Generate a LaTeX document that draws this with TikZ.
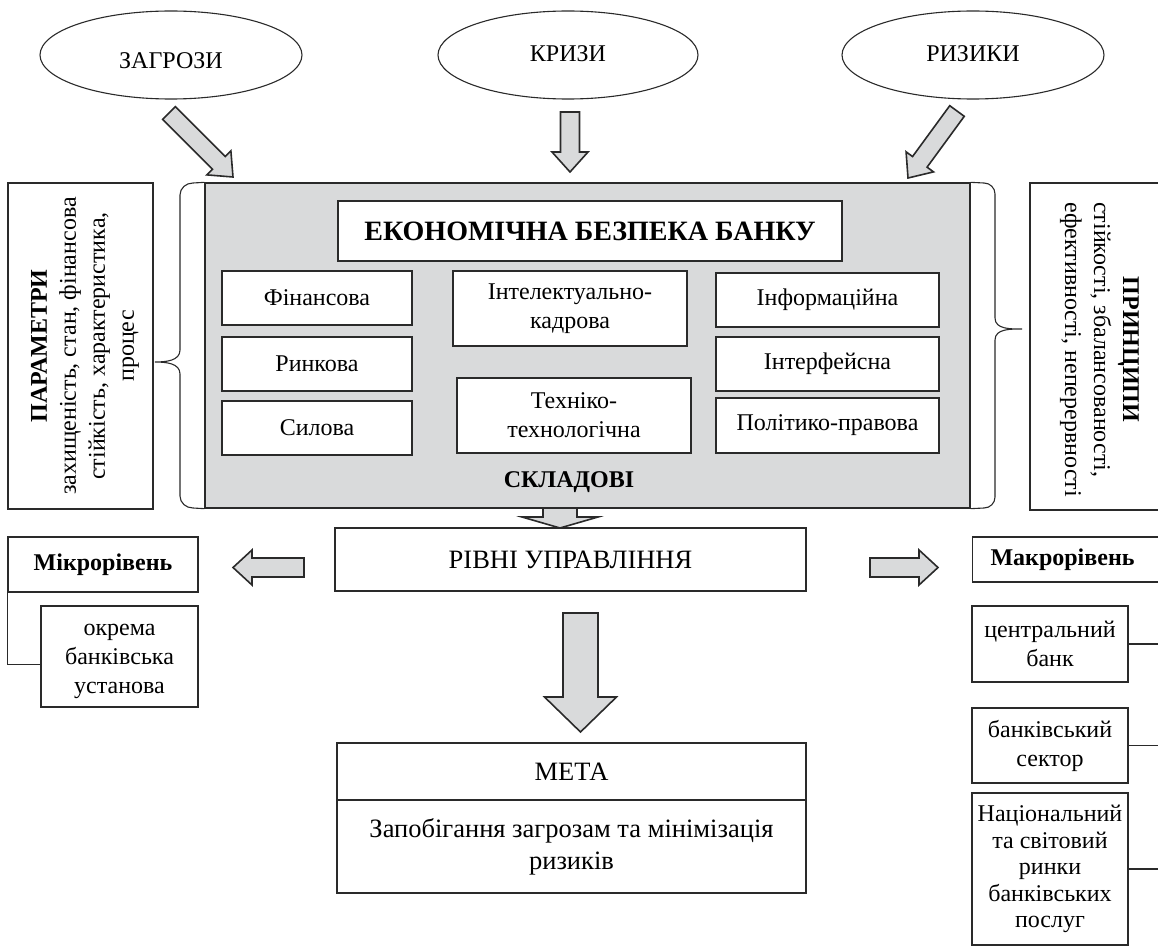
\documentclass[tikz,border=0pt]{standalone}
\usepackage{fontspec}
\setmainfont{Liberation Serif}
\usetikzlibrary{shapes.geometric,calc}
\definecolor{linec}{HTML}{2A2A2A}
\definecolor{grayc}{HTML}{D9DADB}
\newcommand\fsbody{\fontsize{24}{29}\selectfont}
\newcommand\fsnat{\fontsize{24}{26.5}\selectfont}
\newcommand\fsbig{\fontsize{26.5}{32}\selectfont}
\newcommand\fstitle{\fontsize{28}{33}\selectfont}
% tail, tip, half shaft, half head, head length
\newcommand\blockarrow[5]{%
  \coordinate (bah) at ($(#2)!#5!(#1)$);
  \draw[barrow] ($(#1)!#3!90:(#2)$) -- ($(bah)!#3!-90:(#1)$) -- ($(bah)!#4!-90:(#1)$) -- (#2)
     -- ($(bah)!#4!90:(#1)$) -- ($(bah)!#3!90:(#1)$) -- ($(#1)!#3!-90:(#2)$) -- cycle;}
\begin{document}
\begin{tikzpicture}[x=1pt,y=-1pt,
  box/.style={draw=linec, line width=1.1pt, fill=white, inner sep=0pt, align=center, font=\fsbody},
  oval/.style={draw=linec, line width=1.1pt, ellipse, inner sep=0pt},
  txt/.style={inner sep=0pt, font=\fsbody, align=center},
  barrow/.style={draw=linec, line width=1.6pt, fill=grayc, line join=miter},
  line/.style={draw=linec, line width=1.1pt}]
\useasboundingbox (0,0) rectangle (1158,947);

% ellipses
\node[oval, minimum width=262pt, minimum height=88pt] (zag) at (171,55) {};
\node[txt] (zagt) at ([yshift=-6pt]zag.center) {ЗАГРОЗИ};
\node[oval, minimum width=260pt, minimum height=88pt] (kryz) at (568,55) {};
\node[txt] (kryzt) at ([yshift=1pt]kryz.center) {КРИЗИ};
\node[oval, minimum width=262pt, minimum height=88pt] (ryz) at (973,55) {};
\node[txt] (ryzt) at ([yshift=1pt]ryz.center) {РИЗИКИ};

% top arrows
\coordinate (a1t) at (169,113); \coordinate (a1h) at (233,177);
\coordinate (a2t) at (570,112); \coordinate (a2h) at (570,172);
\coordinate (a3t) at (957,111); \coordinate (a3h) at (908,178);
\blockarrow{a1t}{a1h}{9pt}{17pt}{20pt}
\blockarrow{a2t}{a2h}{9.5pt}{18pt}{20pt}
\blockarrow{a3t}{a3h}{9pt}{17pt}{20pt}

% gray box
\node[draw=linec, fill=grayc, line width=1.3pt, minimum width=765pt, minimum height=325pt, inner sep=0pt] (gray) at (587.5,345.5) {};
\node[box, minimum width=504pt, minimum height=60pt, font=\fstitle\bfseries] (title) at (590,231) {ЕКОНОМІЧНА БЕЗПЕКА БАНКУ};
\node[box, minimum width=190pt, minimum height=54pt] (fin) at (317,298) {Фінансова};
\node[box, minimum width=190pt, minimum height=54pt] (rynk) at (317,364) {Ринкова};
\node[box, minimum width=190pt, minimum height=54pt] (syl) at (317,428) {Силова};
\node[box, minimum width=234pt, minimum height=75pt] (intel) at (570,308.5) {Інтелектуально-\\кадрова};
\node[box, minimum width=234pt, minimum height=75pt] (tech) at (574,415.5) {Техніко-\\технологічна};
\node[box, minimum width=223pt, minimum height=54pt] (inform) at (827.5,300) {Інформаційна};
\node[box, minimum width=223pt, minimum height=54pt] (interf) at (827.5,364) {Інтерфейсна};
\node[box, minimum width=223pt, minimum height=55pt] (polit) at (827.5,425.5) {Політико-правова};
\node[txt, font=\fsbody\bfseries] (skl) at (569,482) {СКЛАДОВІ};

% braces
\draw[line] (gray.north west) -- (193,183) to[out=180,in=90] (180,195) -- (180,350)
  to[out=-90,in=0] (155,362) to[out=0,in=90] (180,374) -- (180,496)
  to[out=-90,in=180] (193,508) -- (gray.south west);
\draw[line] (gray.north east) -- (984,183) to[out=0,in=90] (995,194) -- (995,318)
  to[out=-90,in=180] (1022,329) to[out=180,in=90] (995,340) -- (995,497)
  to[out=-90,in=0] (984,508) -- (gray.south east);

% side boxes
\node[box, minimum width=145pt, minimum height=326pt] (param) at (80.5,346) {};
\node[txt, rotate=90] (paramt) at (85,346)
  {\textbf{ПАРАМЕТРИ}\\захищеність, стан, фінансова\\стійкість, характеристика,\\процес};
\node[box, minimum width=140pt, minimum height=327pt] (princ) at (1100,346.5) {};
\node[txt, rotate=-90, anchor=west] (princt) at (1100,202)
  {\begin{tabular}{@{}l@{}}\multicolumn{1}{@{}c@{}}{\textbf{ПРИНЦИПИ}}\\стійкості, збалансованості,\\ефективності, неперервності\end{tabular}};

% levels
\coordinate (a4t) at (560,508); \coordinate (a4h) at (560,528);
\blockarrow{a4t}{a4h}{17pt}{38pt}{11pt}
\node[box, minimum width=471pt, minimum height=63pt, font=\fsbig] (rivni) at (570.5,559.5) {РІВНІ УПРАВЛІННЯ};
\coordinate (a5t) at (304,567.5); \coordinate (a5h) at (233,567.5);
\blockarrow{a5t}{a5h}{9.5pt}{17.5pt}{19pt}
\coordinate (a6t) at (870,567.5); \coordinate (a6h) at (938,567.5);
\blockarrow{a6t}{a6h}{9.5pt}{17.5pt}{19pt}

\node[box, minimum width=190pt, minimum height=55pt, font=\fsbody\bfseries] (mikro) at (103,564.5) {Мікрорівень};
\node[box, minimum width=157pt, minimum height=101pt] (okrema) at (119.5,656.5) {};
\node[txt] (okremat) at (119.5,661) {окрема\\банківська\\установа};
\draw[line] (mikro.south west) |- ([yshift=-8pt]okrema.west);

\node[box, anchor=west, minimum width=200pt, minimum height=45pt, font=\fsbody\bfseries] (makro) at (972,559.5) {\makebox[180pt]{Макрорівень}\hspace*{20pt}};
\node[box, minimum width=156pt, minimum height=76pt] (central) at (1050,644) {центральний\\банк};
\node[box, minimum width=156pt, minimum height=75pt] (sektor) at (1050,745.5) {банківський\\сектор};
\node[box, minimum width=156pt, minimum height=152pt, font=\fsnat] (nats) at (1050,869) {Національний\\та світовий\\ринки\\банківських\\послуг};
\coordinate (redge) at (1170,0);
\draw[line] (central.east) -- (central.east -| redge);
\draw[line] (sektor.east) -- (sektor.east -| redge);
\draw[line] (nats.east) -- (nats.east -| redge);

% goal
\coordinate (a7t) at (580.5,613); \coordinate (a7h) at (580.5,732);
\blockarrow{a7t}{a7h}{17.5pt}{36pt}{35pt}
\node[box, minimum width=469pt, minimum height=57pt, font=\fsbig] (metat) at (571.5,771.5) {МЕТА};
\node[box, minimum width=469pt, minimum height=93pt, font=\fsbig] (metab) at (571.5,846.5) {Запобігання загрозам та мінімізація\\ризиків};
\end{tikzpicture}
\end{document}
